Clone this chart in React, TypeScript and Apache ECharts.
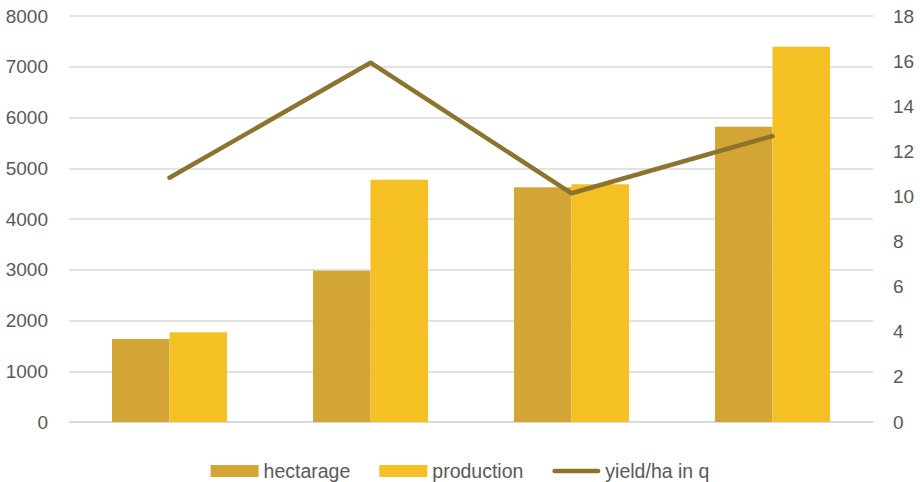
import React, { useEffect, useRef } from "react";
import * as echarts from "echarts";

const categories = ["1", "2", "3", "4"];
const hectarage = [1635, 2980, 4625, 5820];
const production = [1767, 4775, 4685, 7395];
const yieldPerHa = [10.83, 15.93, 10.14, 12.68];
const leftTicks = { min: 0, max: 8000, interval: 1000 };
const rightTicks = { min: 0, max: 18, interval: 2 };

const FONT = "'Liberation Sans', Arial, sans-serif";
const TEXT_COLOR = "#595959";
const LINE_ICON = "path://M2.5,0 H48.5 A2.5,2.5 0 0 1 48.5,5 H2.5 A2.5,2.5 0 0 1 2.5,0 Z";

export default function App() {
  const ref = useRef<HTMLDivElement>(null);
  useEffect(() => {
    if (!ref.current) return;
    const chart = echarts.init(ref.current, undefined, { renderer: "svg" });
    chart.setOption({
      animation: false,
      textStyle: { fontFamily: FONT },
      grid: { left: 69, right: 47, top: 16, bottom: 60, containLabel: false },
      legend: {
        bottom: -4,
        left: "center",
        itemWidth: 48,
        itemHeight: 12,
        itemGap: 29,
        textStyle: { fontSize: 19.5, color: TEXT_COLOR, fontFamily: FONT },
        data: [
          { name: "hectarage", icon: "rect" },
          { name: "production", icon: "rect" },
          { name: "yield/ha in q", icon: LINE_ICON, itemStyle: { color: "#8C742F" } },
        ],
      },
      xAxis: {
        type: "category",
        data: categories,
        axisLine: { lineStyle: { color: "#d9d9d9", width: 1.5 } },
        axisTick: { show: false },
        axisLabel: { show: false },
      },
      yAxis: [
        {
          type: "value",
          ...leftTicks,
          axisLine: { show: false },
          axisTick: { show: false },
          axisLabel: { fontSize: 19, color: TEXT_COLOR, margin: 21, fontFamily: FONT, formatter: (v: number) => String(v) },
          splitLine: { lineStyle: { color: "#d9d9d9", width: 1.5 } },
        },
        {
          type: "value",
          ...rightTicks,
          axisLine: { show: false },
          axisTick: { show: false },
          axisLabel: { fontSize: 19, color: TEXT_COLOR, margin: 20, fontFamily: FONT, formatter: (v: number) => String(v) },
          splitLine: { show: false },
        },
      ],
      series: [
        {
          name: "hectarage",
          type: "bar",
          data: hectarage,
          barWidth: "28.6%",
          barGap: "0%",
          itemStyle: { color: "#D3A535" },
        },
        {
          name: "production",
          type: "bar",
          data: production,
          barWidth: "28.6%",
          barGap: "0%",
          itemStyle: { color: "#F4C024" },
        },
        {
          name: "yield/ha in q",
          type: "line",
          yAxisIndex: 1,
          data: yieldPerHa,
          symbol: "none",
          showSymbol: false,
          lineStyle: { color: "#8C742F", width: 4.5, cap: "round", join: "round" },
          itemStyle: { color: "#8C742F" },
          z: 5,
        },
      ],
    });
    return () => chart.dispose();
  }, []);
  return <div ref={ref} style={{ position: "absolute", left: 0, top: 0, width: 920, height: 482 }} />;
}
